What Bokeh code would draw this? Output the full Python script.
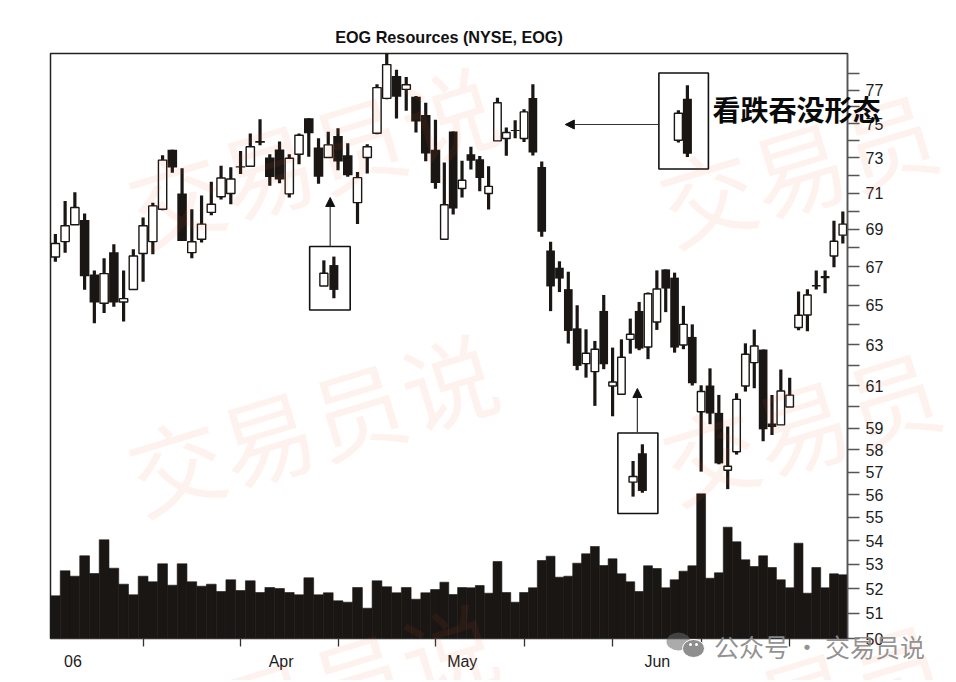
import numpy as np
from bokeh.plotting import figure
from bokeh.layouts import column, row
from bokeh.embed import file_html
from bokeh.resources import INLINE
from bokeh.core.properties import value
from bokeh.models import (Range1d, LinearScale, LinearAxis, FixedTicker, Arrow, NormalHead,
                          BasicTickFormatter)

TITLE = "EOG Resources (NYSE, EOG)"
ANNOTATION = "看跌吞没形态"
MONTHS = ["06", "Apr", "May", "Jun"]
TICK_SESSIONS = [9, 19, 29, 39, 49, 59, 69, 79]
PRICE_TICKS = list(range(50, 79))
PRICE_LABELED = [50, 51, 52, 53, 54, 55, 56, 57, 58, 59, 61, 63, 65, 67, 69, 71, 73, 75, 77]

high = [68.75, 70.56, 71.05, 69.87, 66.81, 67.45, 68.2, 66.81, 67.93, 69.65, 70.47, 73.15, 73.46, 72.4, 70.1, 70.87,
        71.64, 72.55, 72.46, 73.4, 74.41, 75.25, 73.21, 73.94, 73.21, 74.41, 75.31, 74.14, 74.51, 74.72, 73.85, 72.19,
        73.79, 77.35, 79.3, 78.25, 77.8, 76.64, 76.24, 75.22, 72.73, 74.53, 72.83, 73.64, 73.1, 72.52, 76.54, 74.76,
        75.2, 75.84, 77.35, 72.79, 68.33, 67.29, 66.74, 65.0, 63.78, 63.2, 65.53, 62.87, 63.28, 64.32, 65.17, 65.66,
        66.81, 66.86, 66.69, 64.97, 64.03, 61.03, 61.85, 60.57, 59.08, 60.65, 63.08, 63.77, 62.77, 60.57, 61.8, 61.39,
        65.71, 65.83, 66.81, 66.81, 69.47, 69.98]
body_top = [68.24, 69.2, 70.2, 69.51, 66.6, 66.64, 67.77, 65.34, 67.57, 69.2, 70.29, 72.87, 73.46, 70.98, 68.33, 69.29,
            70.38, 71.85, 71.79, 72.52, 73.64, 73.98, 73.02, 73.48, 72.98, 74.31, 75.31, 73.6, 73.75, 74.27, 73.15, 71.87,
            73.64, 77.15, 78.56, 77.86, 77.32, 76.6, 75.51, 73.46, 70.35, 74.53, 71.72, 73.21, 72.92, 71.38, 76.24, 74.47,
            74.62, 75.69, 76.52, 72.48, 67.87, 66.95, 65.83, 63.83, 62.59, 62.79, 64.71, 61.19, 62.39, 63.53, 64.71, 65.59,
            65.84, 66.86, 66.43, 64.03, 63.4, 60.73, 61.02, 59.72, 57.26, 60.36, 62.54, 62.95, 62.77, 59.22, 60.76, 60.56,
            64.49, 65.53, 66.05, 66.52, 68.36, 69.29]
body_bottom = [67.52, 68.34, 69.25, 66.5, 65.14, 65.1, 65.14, 65.17, 65.81, 67.7, 68.34, 70.1, 72.44, 68.38, 67.75, 68.47,
               69.93, 70.8, 70.98, 72.44, 72.52, 73.87, 71.91, 71.77, 70.96, 73.21, 74.43, 71.92, 73.02, 72.79, 72.0, 70.47,
               73.02, 74.43, 76.5, 76.59, 77.04, 75.12, 73.25, 71.57, 68.47, 70.14, 71.26, 72.83, 71.85, 70.98, 73.98, 74.12,
               74.56, 74.12, 73.31, 68.87, 65.97, 66.38, 63.7, 61.97, 62.08, 61.69, 62.05, 61.0, 60.6, 63.28, 62.82, 62.9,
               64.15, 65.86, 62.87, 63.0, 61.13, 59.77, 59.69, 57.39, 57.08, 57.92, 61.0, 62.13, 58.95, 59.06, 59.16, 60.0,
               63.87, 64.5, 65.97, 66.4, 67.57, 68.69]
low = [67.27, 67.75, 69.25, 65.8, 64.08, 64.6, 64.93, 64.17, 65.78, 66.22, 67.66, 70.05, 72.15, 68.38, 67.45, 68.29,
       69.78, 70.65, 70.38, 72.08, 72.48, 73.73, 71.42, 71.55, 70.75, 72.63, 73.06, 71.53, 73.02, 72.29, 71.92, 69.29,
       72.1, 74.37, 76.44, 75.29, 75.75, 74.47, 72.8, 71.25, 68.47, 69.82, 70.75, 72.33, 71.11, 70.09, 73.98, 73.12,
       74.14, 73.92, 73.14, 68.6, 64.7, 65.68, 63.07, 61.76, 61.4, 60.05, 61.81, 59.56, 60.6, 62.57, 62.74, 62.3,
       63.75, 64.65, 62.62, 62.79, 61.02, 57.02, 59.19, 57.35, 56.24, 57.79, 60.73, 60.89, 58.4, 58.69, 59.16, 60.0,
       63.74, 63.68, 65.81, 65.62, 66.98, 68.24]
rising = [1, 1, 1, 0, 0, 1, 0, 1, 1, 1, 1, 1, 0, 0, 1, 1, 1, 1, 1, 0, 1, 0, 0, 0, 1, 1, 0, 0, 1, 0, 0, 1,
          1, 1, 1, 0, 1, 0, 0, 0, 1, 0, 1, 0, 0, 1, 1, 1, 0, 1, 0, 0, 0, 0, 0, 0, 1, 1, 0, 1, 1, 1, 0, 1,
          1, 0, 0, 1, 0, 1, 0, 0, 1, 1, 1, 1, 0, 0, 1, 1, 1, 1, 0, 0, 1, 1]
volume = [0.427, 0.677, 0.623, 0.827, 0.65, 0.987, 0.703, 0.543, 0.437, 0.623, 0.567, 0.747, 0.533, 0.747, 0.567, 0.523,
          0.543, 0.47, 0.587, 0.48, 0.577, 0.46, 0.51, 0.5, 0.46, 0.437, 0.607, 0.437, 0.457, 0.377, 0.363, 0.51,
          0.303, 0.577, 0.517, 0.457, 0.51, 0.393, 0.457, 0.49, 0.563, 0.44, 0.51, 0.507, 0.53, 0.453, 0.77, 0.46,
          0.363, 0.46, 0.507, 0.78, 0.823, 0.613, 0.623, 0.753, 0.847, 0.92, 0.73, 0.797, 0.647, 0.567, 0.47, 0.727,
          0.70, 0.507, 0.587, 0.673, 0.727, 1.447, 0.603, 0.657, 1.113, 0.967, 0.787, 0.72, 0.827, 0.71, 0.587, 0.507,
          0.953, 0.453, 0.71, 0.507, 0.647, 0.637]

# Enlarged engulfing-pattern insets: two candles each (white, black)
inset_x = [273.2, 283.2, 627.5, 636.5, 582.2, 591.5]
inset_high = [67.34, 67.54, 75.79, 77.29, 57.5, 58.26]
inset_top = [66.66, 67.09, 75.61, 76.48, 56.8, 57.85]
inset_bottom = [65.99, 65.79, 74.02, 73.24, 56.55, 56.16]
inset_low = [65.99, 65.36, 73.88, 73.05, 55.91, 56.08]
inset_rising = [1, 0, 1, 0, 1, 0]

n = len(high)
idx = np.arange(n)
LEFT_STEP, RIGHT_STEP = 9.74, 8.85
xpos = np.where(idx <= 39, (idx + 0.5) * LEFT_STEP, 39.5 * LEFT_STEP + (idx - 39) * RIGHT_STEP)
step = np.where(idx <= 39, LEFT_STEP, RIGHT_STEP)
ris = np.array(rising, bool)

INK = "#1a1614"
FRAME_L, FRAME_B = 50.5, 638.0
W, H = 956, 680
def sx(px): return px - FRAME_L
def sy(py): return (FRAME_B - py) / 100.0

p = figure(width=W, height=H, output_backend="svg", toolbar_location=None,
           x_range=Range1d(0, 796.5), y_range=Range1d(50, 79.25), y_axis_type="log",
           y_axis_location="right", min_border_left=50, min_border_right=109,
           min_border_top=53, min_border_bottom=42, background_fill_color="white",
           border_fill_color="white", outline_line_color="#222222", outline_line_width=1.5,
           title=TITLE)
p.title.text_font = "Liberation Sans"
p.title.text_font_size = "16.2px"
p.title.text_font_style = "bold"
p.title.text_color = "#111111"
p.title.align = "center"
p.title.offset = 6
p.title.standoff = 16

p.extra_y_ranges = {"vol": Range1d(0, 5.85)}
p.extra_y_scales = {"vol": LinearScale()}
p.grid.visible = False

# Axes
ya = p.yaxis[0]
ya.ticker = FixedTicker(ticks=PRICE_TICKS)
ya.formatter = BasicTickFormatter()
ya.major_label_overrides = {t: (str(t) if t in PRICE_LABELED else "") for t in PRICE_TICKS}
ya.major_tick_in = 0
ya.major_tick_out = 12
ya.major_tick_line_color = "#555555"
ya.major_tick_line_width = 1.4
ya.minor_tick_line_color = None
ya.axis_line_color = "#555555"
ya.axis_line_width = 1.4
ya.major_label_standoff = 6
ya.major_label_text_font = "Liberation Sans"
ya.major_label_text_font_size = "16px"
ya.major_label_text_color = "#1c1c1c"

xa = p.xaxis[0]
xa.ticker = FixedTicker(ticks=[float(xpos[i]) for i in TICK_SESSIONS])
xa.major_tick_in = 0
xa.major_tick_out = 8
xa.major_tick_line_color = "#333333"
xa.major_tick_line_width = 1.3
xa.minor_tick_line_color = None
xa.axis_line_color = "#333333"
xa.major_label_text_color = None
xa.major_label_text_font_size = "1px"
xa.major_label_standoff = 0

month_at = [sx(v) for v in (73, 281, 462, 657)]
mx = LinearAxis(ticker=FixedTicker(ticks=month_at),
                major_label_overrides=dict(zip(month_at, MONTHS)),
                major_tick_in=0, major_tick_out=0, minor_tick_line_color=None,
                axis_line_color=None, major_tick_line_color=None, major_label_standoff=6,
                major_label_text_font="Liberation Sans", major_label_text_font_size="16px",
                major_label_text_color="#1c1c1c")
p.add_layout(mx, "below")

# Volume
p.vbar(x=xpos, width=step, top=volume, bottom=0, y_range_name="vol",
       fill_color=INK, line_color=INK, line_width=0.6)

# Candles
p.segment(x0=xpos, x1=xpos, y0=low, y1=high, line_color=INK, line_width=3.2)
h_top = np.array(body_top); h_bot = np.array(body_bottom)
p.vbar(x=xpos[~ris], width=step[~ris] * 0.98, top=h_top[~ris], bottom=h_bot[~ris],
       fill_color=INK, line_color=None)
p.vbar(x=xpos[ris], width=step[ris] * 0.85, top=h_top[ris], bottom=h_bot[ris],
       fill_color="white", line_color=INK, line_width=1.4)

# Inset candles
ix = np.array(inset_x); ir = np.array(inset_rising, bool)
it = np.array(inset_top); ib = np.array(inset_bottom)
p.segment(x0=ix, x1=ix, y0=inset_low, y1=inset_high, line_color=INK, line_width=3.2)
p.vbar(x=ix[~ir], width=9, top=it[~ir], bottom=ib[~ir], fill_color=INK, line_color=None)
p.vbar(x=ix[ir], width=8, top=it[ir], bottom=ib[ir], fill_color="white", line_color=INK, line_width=1.4)

# Inset boxes
boxes = [(309.5, 350, 246, 309.5), (658.5, 708, 72.5, 168.5), (617.5, 657.5, 432.5, 513)]
p.quad(left=[sx(b[0]) for b in boxes], right=[sx(b[1]) for b in boxes],
       top=[sy(b[2]) for b in boxes], bottom=[sy(b[3]) for b in boxes],
       y_range_name="vol", fill_alpha=0, line_color="#111111", line_width=1.6)

# Arrows from the insets to the pattern
for x0, y0, x1, y1 in [(330, 246, 330, 197), (658, 124, 565, 124), (637, 432, 637, 388)]:
    p.add_layout(Arrow(end=NormalHead(size=9, fill_color="#111111", line_color="#111111"),
                       x_start=sx(x0), y_start=sy(y0), x_end=sx(x1), y_end=sy(y1),
                       y_range_name="vol", line_color="#333333", line_width=1.2))

# Transparent sheet over the whole page, for the texts that overlap frame and axis
ov = figure(width=W, height=H, output_backend="svg", toolbar_location=None,
            x_range=Range1d(0, W), y_range=Range1d(H, 0), min_border=0,
            background_fill_alpha=0, border_fill_alpha=0, outline_line_color=None)
ov.axis.visible = False
ov.grid.visible = False

def label(text, px, py, size, color="#1c1c1c", font="Liberation Sans", style="normal",
          angle=0, alpha=1.0):
    ov.text(x=[px], y=[py], text=[text], text_font=value(font), text_font_size=size,
            text_font_style=style, text_color=color, text_align="center",
            text_baseline="middle", angle=angle, angle_units="deg", text_alpha=alpha)

# Faint diagonal watermark
for wx, wy, s in [(311, 153, "交易员说"), (311, 420, "交易员说"), (311, 690, "交易员说"),
                  (797, 165, "交易员"), (800, 423, "交易员"), (803, 695, "交易员")]:
    label(s, wx, wy, "95px", color="#f05a28", font="Noto Sans CJK SC", angle=17, alpha=0.08)

label(ANNOTATION, 796, 108, "28px", color="#0a0a0a", font="Noto Sans CJK SC", style="bold")

# WeChat-style watermark mark
ov.ellipse(x=[678], y=[641], width=[24], height=[18], fill_color="#666666", fill_alpha=0.55, line_color=None)
ov.ellipse(x=[693], y=[648], width=[22], height=[18], fill_color="#8e8e8e", fill_alpha=1,
           line_color="white", line_width=1)
ov.scatter(x=[690, 696], y=[644, 644], size=3, fill_color="white", line_color=None)
label("公众号 · 交易员说", 819, 645, "25px", color="#8c8c8c", font="Noto Sans CJK SC", alpha=0.95)

page = column(p, row(ov, margin=(-H, 0, 0, 0)), spacing=0)
open("out.html", "w").write(file_html(page, INLINE))
